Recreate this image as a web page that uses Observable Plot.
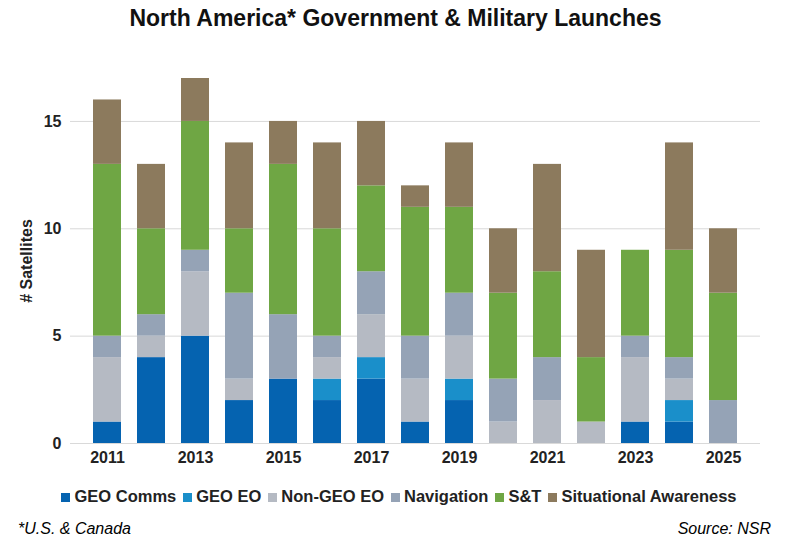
<!DOCTYPE html>
<html><head><meta charset="utf-8">
<script src="https://cdn.jsdelivr.net/npm/d3@7"></script>
<script src="https://cdn.jsdelivr.net/npm/@observablehq/plot@0.6"></script>
<style>
body{margin:0;background:#fff;font-family:Arial,"Liberation Sans",sans-serif;}
#wrap{position:relative;width:791px;height:545px;}
#title{position:absolute;top:5px;left:0;width:791px;text-align:center;font-weight:bold;font-size:23px;color:#111;}
#chart{position:absolute;top:0;left:0;}
#legend{position:absolute;top:487px;left:0;width:791px;text-align:center;font-size:16.5px;font-weight:bold;color:#222;white-space:nowrap;}
#legend span.sw{display:inline-block;width:9px;height:9px;margin:0 4px 0 7px;}
#note{position:absolute;top:520px;left:18px;font-style:italic;font-size:16px;}
#src{position:absolute;top:520px;right:20px;font-style:italic;font-size:16px;}
</style></head><body>
<div id="wrap">
<div id="chart"></div>
<div id="title">North America* Government &amp; Military Launches</div>
<div id="legend"></div>
<div id="note">*U.S. &amp; Canada</div>
<div id="src">Source: NSR</div>
</div>
<script>
const years = [2011,2012,2013,2014,2015,2016,2017,2018,2019,2020,2021,2022,2023,2024,2025];
const categories = ["GEO Comms","GEO EO","Non-GEO EO","Navigation","S&T","Situational Awareness"];
const colors = ["#0563b0","#1a8fca","#b5bac3","#95a3b6","#6fa644","#8c7a5d"];
const geoComms  = [1,4,5,2,3,2,3,1,2,0,0,0,1,1,0];
const geoEO     = [0,0,0,0,0,1,1,0,1,0,0,0,0,1,0];
const nonGeoEO  = [3,1,3,1,0,1,2,2,2,1,2,1,3,1,0];
const navigation= [1,1,1,4,3,1,2,2,2,2,2,0,1,1,2];
const st        = [8,4,6,3,7,5,4,6,4,4,4,3,4,5,5];
const sa        = [3,3,2,4,2,4,3,1,3,3,5,5,0,5,3];
const series = [geoComms,geoEO,nonGeoEO,navigation,st,sa];
const data = [];
categories.forEach((c,i)=>years.forEach((y,j)=>data.push({year:y,cat:c,value:series[i][j]})));

const chart = Plot.plot({
  width:791, height:470,
  marginLeft:70, marginRight:31, marginTop:78, marginBottom:27,
  style:{fontFamily:"Arial, 'Liberation Sans', sans-serif", fontSize:"16px", fontWeight:"bold", color:"#222"},
  x:{type:"band", domain:years, padding:0.37, label:null, tickSize:0,
     tickFormat:d=>d%2===1?String(d):"", tickPadding:8},
  y:{domain:[0,17], ticks:[0,5,10,15], tickSize:0, label:"# Satellites", labelAnchor:"center", labelArrow:"none", labelOffset:50},
  color:{domain:categories, range:colors},
  marks:[
    Plot.gridY([5,10,15],{stroke:"#d9d9d9", strokeOpacity:1}),
    Plot.barY(data,{x:"year", y:"value", fill:"cat", order:categories}),
    Plot.ruleY([0],{stroke:"#d9d9d9"})
  ]
});
document.getElementById("chart").appendChild(chart);
const lg=document.getElementById("legend");
lg.innerHTML=categories.map((c,i)=>`<span class="sw" style="background:${colors[i]}"></span>${c.replace("&","&amp;")}`).join("");
</script>
</body></html>
